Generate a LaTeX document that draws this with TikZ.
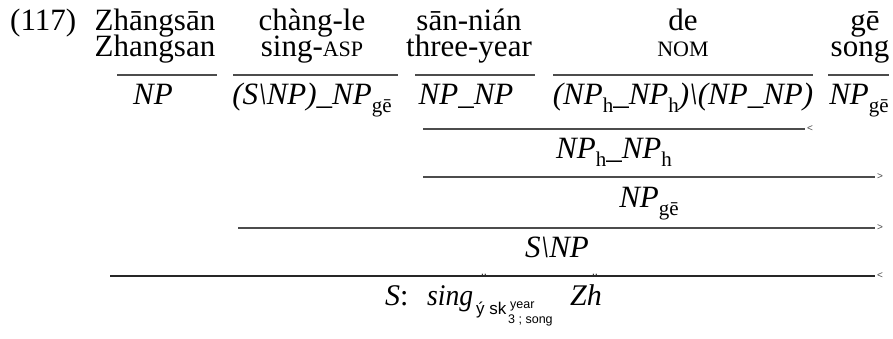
\documentclass[tikz,border=0pt]{standalone}
\usepackage{fontspec}
\setmainfont{Liberation Serif}
\newfontfamily\sansf{Liberation Sans}
\newcommand{\sbx}[1]{\raisebox{-0.28em}{\fontsize{21}{21}\selectfont\upshape #1}}
\newcommand{\fsc}[1]{{\fontsize{22}{22}\selectfont #1}}
\newcommand{\us}{\textunderscore}
\begin{document}
\begin{tikzpicture}[x=1pt,y=-1pt,
  txt/.style={inner sep=0pt, anchor=base, font=\fontsize{31}{31}\selectfont},
  cat/.style={inner sep=0pt, anchor=base, font=\fontsize{31}{31}\selectfont\itshape},
  rl/.style={line width=1.1pt, draw=black!70},
  dir/.style={inner sep=0pt, anchor=west, font=\sansf\fontsize{10}{10}\selectfont, text=black!70},
  sml/.style={inner sep=0pt, anchor=base west, font=\sansf\fontsize{#1}{#1}\selectfont}]
\useasboundingbox (0,0) rectangle (893,338);
% example number
\node[txt, anchor=base west] (ex) at (10,30) {(117)};
% words
\node[txt] (w1) at (155,30) {Zhāngsān};
\node[txt] (w2) at (312,30) {chàng-le};
\node[txt] (w3) at (469,30) {sān-nián};
\node[txt] (w4) at (683,30) {de};
\node[txt] (w5) at (865,30) {gē};
% glosses
\node[txt] (g1) at (155,56.5) {Zhangsan};
\node[txt] (g2) at (312,56.5) {sing-\fsc{ASP}};
\node[txt] (g3) at (469,56.5) {three-year};
\node[txt] (g4) at (683,56.5) {\fsc{NOM}};
\node[txt] (g5) at (860,56.5) {song};
% lexical rules
\coordinate (a1) at (117,75); \coordinate (b1) at (217,75);
\coordinate (a2) at (233,75); \coordinate (b2) at (398,75);
\coordinate (a3) at (415,75); \coordinate (b3) at (535,75);
\coordinate (a4) at (553,75); \coordinate (b4) at (813,75);
\coordinate (a5) at (828,75); \coordinate (b5) at (889,75);
\draw[rl] (a1) -- (b1);
\draw[rl] (a2) -- (b2);
\draw[rl] (a3) -- (b3);
\draw[rl] (a4) -- (b4);
\draw[rl] (a5) -- (b5);
% categories
\node[cat] (c1) at (153,104) {NP};
\node[cat] (c2) at (312,104) {(S\textbackslash NP)\us NP\sbx{gē}};
\node[cat] (c3) at (466,104) {NP\us NP};
\node[cat] (c4) at (683,104) {(NP\sbx{h}\us NP\sbx{h})\textbackslash(NP\us NP)};
\node[cat] (c5) at (859,104) {NP\sbx{gē}};
% derivation step 1
\coordinate (d1a) at (423,129); \coordinate (d1b) at (805,129);
\draw[rl] (d1a) -- (d1b) node[dir, xshift=1.5pt] (t1) {<};
\node[cat] (r1) at (614,158) {NP\sbx{h}\us NP\sbx{h}};
% step 2
\coordinate (d2a) at (423,177); \coordinate (d2b) at (875,177);
\draw[rl] (d2a) -- (d2b) node[dir, xshift=1.5pt] (t2) {>};
\node[cat] (r2) at (649,207) {NP\sbx{gē}};
% step 3
\coordinate (d3a) at (238,228); \coordinate (d3b) at (875,228);
\draw[rl] (d3a) -- (d3b) node[dir, xshift=1.5pt] (t3) {>};
\node[cat] (r3) at (557,257) {S\textbackslash NP};
% step 4
\coordinate (d4a) at (110,276); \coordinate (d4b) at (875,276);
\draw[rl, draw=black!85] (d4a) -- (d4b) node[dir, xshift=1.5pt] (t4) {<};
% final semantics
\node[cat, anchor=base west, font=\fontsize{30}{30}\selectfont\itshape] (fs) at (385,305) {S\upshape:};
\node[cat, anchor=base west, font=\fontsize{30}{30}\selectfont\itshape, xscale=0.92] (fsing) at (427,305) {sing};
\node[sml=17] (fsub) at (476,314) {ý sk};
\node[sml=12.5] (fsup) at (510,308) {year};
\node[sml=12.5] (fsub2) at (508,323) {3 ; song};
\node[cat, anchor=base west, font=\fontsize{30}{30}\selectfont\itshape] (fzh) at (570,305) {Zh};
\node[inner sep=0pt, font=\sansf\fontsize{15}{15}\selectfont, text=black!80] (dd1) at (484,279) {¨};
\node[inner sep=0pt, font=\sansf\fontsize{15}{15}\selectfont, text=black!80] (dd2) at (595,279) {¨};
\end{tikzpicture}
\end{document}
